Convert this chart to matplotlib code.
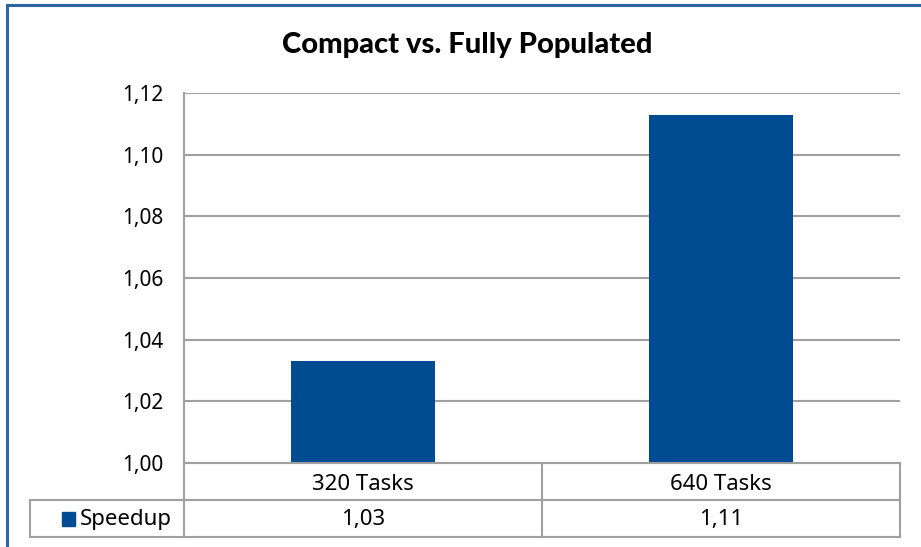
import numpy as np
import matplotlib.pyplot as plt
from matplotlib.patches import Rectangle

# speedup of compact placement over fully populated nodes
tasks = ['320 Tasks', '640 Tasks']
speedup = [1.0332, 1.1128]
series_name = 'Speedup'
yticks = [1.00, 1.02, 1.04, 1.06, 1.08, 1.10, 1.12]

bar_color = '#004C93'
line_color = '#A0A0A0'
plt.rcParams['font.family'] = ['Noto Sans', 'DejaVu Sans']

fig = plt.figure(figsize=(9.21, 5.47), dpi=100)
W, H = 921.0, 547.0

def fx(px):
    return px / W

def fy(py):
    return (H - py) / H

# outer chart frame (only top and left edges visible)
fig.add_artist(Rectangle((fx(7), -0.1), 1.2, fy(5) + 0.1, transform=fig.transFigure,
                         fill=False, edgecolor='#2F63A8', linewidth=2.2))

ax = fig.add_axes([fx(184), fy(463), (900 - 184) / W, (463 - 93) / H])
x = np.arange(len(tasks))
ax.bar(x, speedup, width=0.4, color=bar_color, zorder=3)
ax.set_xlim(-0.5, len(tasks) - 0.5)
ax.set_ylim(yticks[0], yticks[-1])
ax.set_yticks(yticks)
ax.set_yticklabels([f'{v:.2f}'.replace('.', ',') for v in yticks], fontsize=15)
ax.tick_params(axis='y', length=0, pad=15)
ax.set_xticks([])
ax.grid(axis='y', color=line_color, linewidth=1.5, zorder=0)
for s in ['top', 'right', 'bottom']:
    ax.spines[s].set_visible(False)
ax.spines['left'].set_color(line_color)
ax.spines['left'].set_linewidth(1.5)

fig.text(fx(467), fy(45), 'Compact vs. Fully Populated', ha='center', va='center',
         fontsize=21, fontweight='black', family=['Lato', 'DejaVu Sans'])

# data table under the axis
lw = 1.5
segs = [
    ((184, 463), (900, 463)),
    ((30, 500), (900, 500)),
    ((30, 537), (900, 537)),
    ((184, 463), (184, 537)),
    ((542, 463), (542, 537)),
    ((900, 463), (900, 537)),
    ((30, 500), (30, 537)),
]
for (x0, y0), (x1, y1) in segs:
    fig.add_artist(plt.Line2D([fx(x0), fx(x1)], [fy(y0), fy(y1)], color=line_color,
                              linewidth=lw, transform=fig.transFigure))

col_w = (900 - 184) / len(tasks)
for i, (t, v) in enumerate(zip(tasks, speedup)):
    cx = 184 + col_w * (i + 0.5)
    fig.text(fx(cx), fy(484), t, ha='center', va='center', fontsize=16)
    fig.text(fx(cx), fy(519), f'{v:.2f}'.replace('.', ','), ha='center', va='center', fontsize=16)

fig.add_artist(Rectangle((fx(62), fy(526)), 13 / W, 14 / H, transform=fig.transFigure,
                         color=bar_color))
fig.text(fx(80), fy(519), series_name, ha='left', va='center', fontsize=16)

fig.savefig('out.png', dpi=100)
